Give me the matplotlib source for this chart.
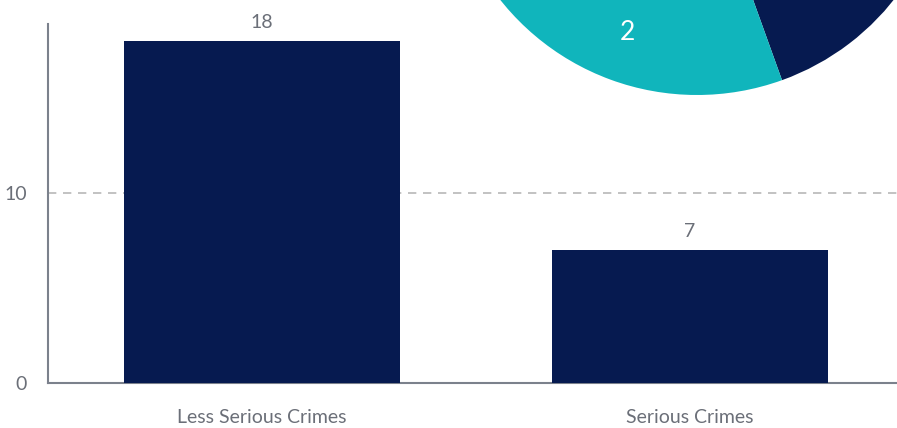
import matplotlib.pyplot as plt

plt.rcParams['font.family'] = ['Lato', 'DejaVu Sans']

categories = ["Less Serious Crimes", "Serious Crimes"]
counts = [18, 7]
pie_values = [7, 2]
pie_labels = ["", "2"]  # the "7" label sits outside the figure

navy = "#061a50"
teal = "#10b5bc"
grey_text = "#6b6f78"
axis_col = "#7b818c"

W, H = 897, 428
fig = plt.figure(figsize=(W / 100, H / 100), dpi=100)

# bar chart
ax = fig.add_axes([48 / W, 45 / H, 856 / W, 359 / H])
bars = ax.bar(range(len(categories)), counts, width=0.643, color=navy, zorder=3)
ax.set_xlim(-0.5, 1.5)
ax.set_ylim(0, 359 / 19)
ax.set_yticks([0, 10])
ax.set_xticks(range(len(categories)))
ax.set_xticklabels(categories)
ax.tick_params(length=0, labelsize=14, colors=grey_text)
ax.tick_params(axis="y", pad=15)
ax.tick_params(axis="x", pad=19)
for s in ["top", "right"]:
    ax.spines[s].set_visible(False)
for s in ["left", "bottom"]:
    ax.spines[s].set_color(axis_col)
    ax.spines[s].set_linewidth(1.5)
ax.axhline(10, color="#b8b8b8", linestyle=(0, (5, 4)), linewidth=1.2, zorder=1)
ax.bar_label(bars, labels=[str(c) for c in counts], padding=7,
             fontsize=14, color=grey_text)

# pie chart, mostly outside the figure
cx, cy, r = 697, H + 156, 251
pax = fig.add_axes([(cx - r) / W, (cy - r) / H, 2 * r / W, 2 * r / H])
wedges, texts = pax.pie(pie_values, colors=[navy, teal], startangle=-70.2,
                        radius=1, labels=pie_labels, labeldistance=0.80,
                        textprops=dict(color="white", fontsize=19, ha="center", va="center"))
pax.set_xlim(-1, 1)
pax.set_ylim(-1, 1)
pax.set_aspect("equal")
pax.axis("off")

fig.savefig("out.png", dpi=100)
